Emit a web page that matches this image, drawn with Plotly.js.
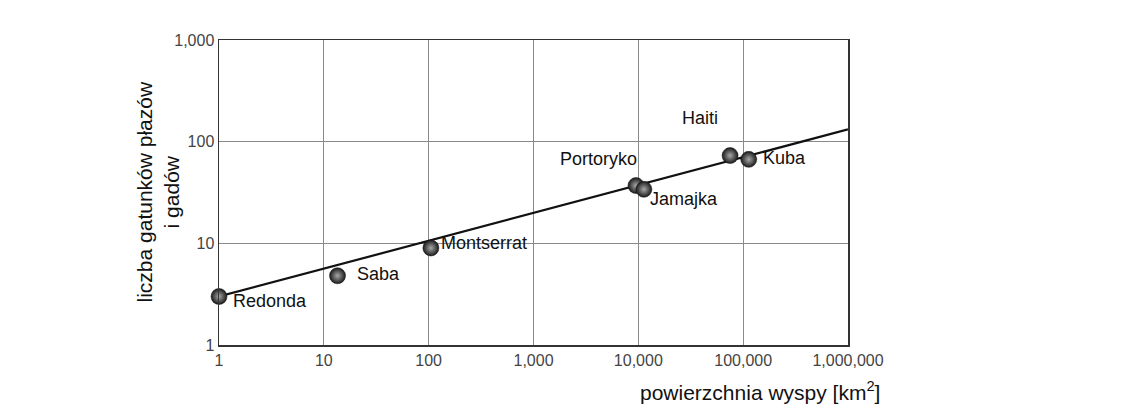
<!DOCTYPE html>
<html>
<head>
<meta charset="utf-8">
<script src="https://cdn.plot.ly/plotly-3.0.1.min.js"></script>
<style>html,body{margin:0;padding:0;background:#fff;}#chart{width:1146px;height:418px;}</style>
</head>
<body>
<div id="chart"></div>
<script>
// Islands: area [km2] and number of amphibian & reptile species
const islands = ["Redonda", "Saba", "Montserrat", "Portoryko", "Jamajka", "Haiti", "Kuba"];
const areaKm2 = [1, 13.5, 105, 9500, 11300, 75000, 113000];
const species = [3.0, 4.8, 9.0, 37, 34, 73, 67];

// Fitted line end points
const fitX = [1, 1000000];
const fitY = [3.0, 132];

// Tick values and labels
const xTickVals = [1, 10, 100, 1000, 10000, 100000, 1000000];
const xTickText = ["1", "10", "100", "1,000", "10,000", "100,000", "1,000,000"];
const yTickVals = [1, 10, 100, 1000];
const yTickText = ["1", "10", "100", "1,000"];

// Label offsets (pixels) relative to each point
const labelStyle = {
  "Redonda":   {xanchor: "left",   xshift: 12,  yshift: -5},
  "Saba":      {xanchor: "left",   xshift: 17,  yshift: 2},
  "Montserrat":{xanchor: "left",   xshift: 8,   yshift: 5},
  "Portoryko": {xanchor: "right",  xshift: 3,   yshift: 27},
  "Jamajka":   {xanchor: "left",   xshift: 4,   yshift: -10},
  "Haiti":     {xanchor: "center", xshift: -30, yshift: 38},
  "Kuba":      {xanchor: "left",   xshift: 12,  yshift: 1}
};

const fontFam = "Liberation Sans, Arial, sans-serif";

const traces = [
  {
    x: fitX, y: fitY, type: "scatter", mode: "lines",
    line: {color: "#111", width: 2.2}, hoverinfo: "skip", showlegend: false
  },
  {
    x: areaKm2, y: species, type: "scatter", mode: "markers",
    text: islands, cliponaxis: false,
    marker: {
      size: 16, color: "#1a1a1a",
      gradient: {type: "radial", color: "#a8a8a8"},
      line: {width: 0.5, color: "#111"}
    },
    showlegend: false
  }
];

const annotations = islands.map((name, i) => Object.assign({
  x: Math.log10(areaKm2[i]), y: Math.log10(species[i]),
  xref: "x", yref: "y", text: name, showarrow: false,
  yanchor: "middle",
  font: {family: fontFam, size: 18, color: "#111"}
}, labelStyle[name]));

annotations.push({
  xref: "paper", yref: "paper", x: 0, y: 0.5,
  xshift: -62, textangle: -90, showarrow: false,
  text: "liczba gatunków płazów<br>i gadów",
  xanchor: "center", yanchor: "middle",
  font: {family: fontFam, size: 21, color: "#111"}
});
annotations.push({
  xref: "paper", yref: "paper", x: 1, y: 0,
  xshift: 34, yshift: -31, showarrow: false,
  text: "powierzchnia wyspy [km<sup>2</sup>]",
  xanchor: "right", yanchor: "top",
  font: {family: fontFam, size: 21, color: "#111"}
});

const layout = {
  width: 1146, height: 418,
  margin: {l: 219, r: 298, t: 40, b: 73, pad: 0},
  paper_bgcolor: "#fff", plot_bgcolor: "#fff",
  xaxis: {
    type: "log", range: [0, 6],
    tickvals: xTickVals, ticktext: xTickText,
    showgrid: true, gridcolor: "#8a8a8a", gridwidth: 1,
    showline: true, linecolor: "#333", linewidth: 1.5, mirror: true,
    ticks: "", zeroline: false,
    tickfont: {family: fontFam, size: 16, color: "#444"}
  },
  yaxis: {
    type: "log", range: [0, 3],
    tickvals: yTickVals, ticktext: yTickText,
    showgrid: true, gridcolor: "#8a8a8a", gridwidth: 1,
    showline: true, linecolor: "#333", linewidth: 1.5, mirror: true,
    ticks: "", zeroline: false,
    tickfont: {family: fontFam, size: 16, color: "#444"}
  },
  annotations: annotations,
  hovermode: false
};

Plotly.newPlot("chart", traces, layout, {displayModeBar: false, staticPlot: true});
</script>
</body>
</html>
